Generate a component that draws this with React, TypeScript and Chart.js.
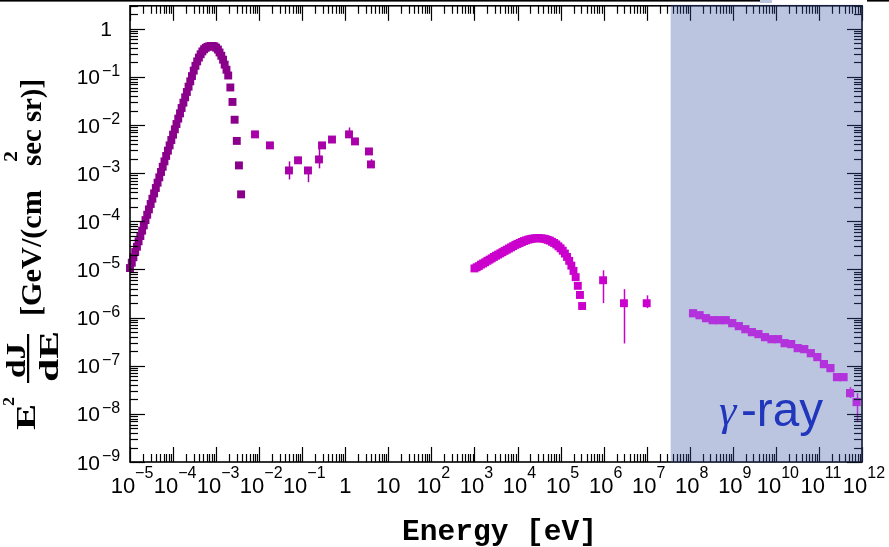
import React, { useEffect, useRef } from "react";
import { Chart, registerables } from "chart.js";
Chart.register(...registerables);

// ---- Data (energy in eV, E^2 dJ/dE in GeV/(cm^2 s sr)) ----
const cmbE = [
  1.00e-5, 1.10e-5, 1.20e-5, 1.32e-5, 1.45e-5, 1.58e-5, 1.74e-5, 1.91e-5, 2.09e-5, 2.29e-5,
  2.51e-5, 2.75e-5, 3.02e-5, 3.31e-5, 3.63e-5, 3.98e-5, 4.37e-5, 4.79e-5, 5.25e-5, 5.75e-5,
  6.31e-5, 6.92e-5, 7.59e-5, 8.32e-5, 9.12e-5, 1.00e-4, 1.10e-4, 1.20e-4, 1.32e-4, 1.45e-4,
  1.58e-4, 1.74e-4, 1.91e-4, 2.09e-4, 2.29e-4, 2.51e-4, 2.75e-4, 3.02e-4, 3.31e-4, 3.63e-4,
  3.98e-4, 4.37e-4, 4.79e-4, 5.25e-4, 5.75e-4, 6.31e-4, 6.92e-4, 7.59e-4, 8.32e-4, 9.12e-4,
  1.00e-3, 1.10e-3, 1.20e-3, 1.32e-3, 1.45e-3, 1.58e-3, 1.74e-3, 1.91e-3, 2.14e-3, 2.40e-3,
  2.69e-3, 3.02e-3, 3.39e-3, 3.80e-3,
];
const cmbFlux = [
  1.07e-5, 1.38e-5, 1.79e-5, 2.30e-5, 2.97e-5, 3.84e-5, 4.95e-5, 6.40e-5, 8.24e-5, 1.06e-4,
  1.37e-4, 1.77e-4, 2.29e-4, 2.95e-4, 3.81e-4, 4.92e-4, 6.35e-4, 8.20e-4, 1.06e-3, 1.36e-3,
  1.76e-3, 2.28e-3, 2.94e-3, 3.78e-3, 4.89e-3, 6.31e-3, 8.15e-3, 1.05e-2, 1.36e-2, 1.75e-2,
  2.26e-2, 2.92e-2, 3.77e-2, 4.86e-2, 6.27e-2, 8.09e-2, 0.104, 0.135, 0.170, 0.210,
  0.252, 0.295, 0.338, 0.375, 0.402, 0.420, 0.432, 0.440, 0.440, 0.430,
  0.405, 0.370, 0.322, 0.275, 0.228, 0.180, 0.141, 0.107, 0.0603, 0.0302,
  0.0129, 4.68e-3, 1.45e-3, 3.63e-4,
];

const cibE = [8.0e-3, 1.78e-2, 4.92e-2, 7.98e-2, 0.136, 0.245, 0.288, 0.491, 1.22, 1.68, 3.55, 3.95];
const cibFlux = [6.4e-3, 3.78e-3, 1.14e-3, 1.85e-3, 1.14e-3, 1.93e-3, 3.78e-3, 5.0e-3, 6.4e-3, 4.57e-3, 2.83e-3, 1.52e-3];
const cibErrLo = [null, null, 7.4e-4, 1.6e-3, 6.5e-4, 1.26e-3, null, null, 5.6e-3, 4.0e-3, null, 1.3e-3];
const cibErrHi = [null, null, 1.76e-3, 2.2e-3, 1.3e-3, 3.2e-3, null, null, 8.9e-3, 5.2e-3, null, 1.95e-3];

const cxbE = [
  1000, 1122, 1259, 1413, 1585, 1778, 1995, 2239, 2512, 2818,
  3162, 3548, 3981, 4467, 5012, 5623, 6310, 7079, 7943, 8913,
  1.0e4, 1.122e4, 1.259e4, 1.413e4, 1.585e4, 1.778e4, 1.995e4, 2.239e4, 2.512e4, 2.818e4,
  3.162e4, 3.548e4, 3.981e4, 4.467e4, 5.012e4, 5.623e4, 6.310e4, 7.079e4, 7.943e4, 8.913e4,
  1.0e5, 1.122e5, 1.259e5, 1.413e5, 1.585e5, 1.778e5, 1.995e5, 2.239e5, 2.512e5, 2.818e5,
  3.162e5,
];
const cxbFlux = [
  1.05e-5, 1.11e-5, 1.17e-5, 1.26e-5, 1.33e-5, 1.41e-5, 1.51e-5, 1.60e-5, 1.70e-5, 1.82e-5,
  1.93e-5, 2.04e-5, 2.16e-5, 2.29e-5, 2.43e-5, 2.57e-5, 2.72e-5, 2.88e-5, 3.05e-5, 3.24e-5,
  3.39e-5, 3.55e-5, 3.72e-5, 3.89e-5, 4.03e-5, 4.17e-5, 4.27e-5, 4.37e-5, 4.42e-5, 4.47e-5,
  4.47e-5, 4.42e-5, 4.37e-5, 4.27e-5, 4.12e-5, 3.98e-5, 3.76e-5, 3.55e-5, 3.31e-5, 3.02e-5,
  2.75e-5, 2.45e-5, 2.14e-5, 1.82e-5, 1.51e-5, 1.20e-5, 9.33e-6, 6.92e-6, 4.57e-6, 2.95e-6,
  1.74e-6,
];

const mevE = [9.7e5, 2.96e6, 1.0e7];
const mevFlux = [5.97e-6, 1.99e-6, 1.99e-6];
const mevErrLo = [2.0e-6, 2.9e-7, 1.57e-6];
const mevErrHi = [9.6e-6, 3.9e-6, 2.9e-6];

const gammaE = [
  1.19e8, 1.69e8, 2.39e8, 3.40e8, 4.82e8, 6.84e8, 9.70e8, 1.377e9, 1.954e9, 2.773e9,
  3.936e9, 5.585e9, 7.925e9, 1.125e10, 1.596e10, 2.265e10, 3.214e10, 4.56e10, 6.471e10, 9.183e10,
  1.303e11, 1.849e11, 2.624e11, 3.724e11, 5.284e11, 7.499e11,
];
const gammaFlux = [
  1.23e-6, 1.12e-6, 9.72e-7, 8.83e-7, 8.83e-7, 8.83e-7, 7.66e-7, 6.64e-7, 5.74e-7, 4.98e-7,
  4.53e-7, 3.92e-7, 3.56e-7, 3.56e-7, 2.94e-7, 2.81e-7, 2.32e-7, 2.21e-7, 1.82e-7, 1.51e-7,
  1.08e-7, 8.91e-8, 5.79e-8, 5.79e-8, 2.70e-8, 1.76e-8,
];
const gammaErrLo = [null, null, null, null, null, null, null, null, null, null, null, null, null,
  null, null, null, null, null, null, null, null, null, null, null, 2.13e-8, 6.76e-9];
const gammaErrHi = [null, null, null, null, null, null, null, null, null, null, null, null, null,
  null, null, null, null, null, null, null, null, null, null, null, 3.6e-8, 2.7e-8];

const xTickExps = [-5, -4, -3, -2, -1, 0, 1, 2, 3, 4, 5, 6, 7, 8, 9, 10, 11, 12];
const yTickExps = [-9, -8, -7, -6, -5, -4, -3, -2, -1, 0];
const X_MIN = 1e-5, X_MAX = 1e12, Y_MIN = 1e-9, Y_MAX = 3.0;
const gammaBandStart = 3.6e7;

const COL_CMB = "#8b008b";
const COL_CIB = "#aa00aa";
const COL_CXB = "#cc00cc";
const COL_GAMMA = "#f020f8";

const pts = (xs: number[], ys: number[]) => xs.map((x, i) => ({ x, y: ys[i] }));

const errSets = [
  { E: cibE, lo: cibErrLo, hi: cibErrHi, color: COL_CIB },
  { E: mevE, lo: mevErrLo, hi: mevErrHi, color: COL_CXB },
  { E: gammaE, lo: gammaErrLo, hi: gammaErrHi, color: COL_GAMMA },
];

function supStr(e: number) {
  return e < 0 ? "\u2212" + String(-e) : String(e);
}

function rotFit(ctx: CanvasRenderingContext2D, text: string, font: string, baseX: number, yStart: number, yEnd: number) {
  ctx.save();
  ctx.font = font;
  const w = ctx.measureText(text).width;
  ctx.translate(baseX, yStart);
  ctx.rotate(-Math.PI / 2);
  ctx.scale((yStart - yEnd) / w, 1);
  ctx.textAlign = "left";
  ctx.textBaseline = "alphabetic";
  ctx.fillText(text, 0, 0);
  ctx.restore();
}

function hFit(ctx: CanvasRenderingContext2D, text: string, font: string, x0: number, x1: number, baseY: number) {
  ctx.save();
  ctx.font = font;
  const w = ctx.measureText(text).width;
  ctx.translate(x0, baseY);
  ctx.scale((x1 - x0) / w, 1);
  ctx.textAlign = "left";
  ctx.textBaseline = "alphabetic";
  ctx.fillText(text, 0, 0);
  ctx.restore();
}

const decorPlugin = {
  id: "decor",
  afterDatasetsDraw(chart: any) {
    const ctx: CanvasRenderingContext2D = chart.ctx;
    const xs = chart.scales.x, ys = chart.scales.y;
    ctx.save();
    ctx.lineWidth = 1.5;
    for (const s of errSets) {
      ctx.strokeStyle = s.color;
      s.E.forEach((e: number, i: number) => {
        const lo = s.lo[i], hi = s.hi[i];
        if (lo == null || hi == null) return;
        const px = Math.round(xs.getPixelForValue(e)) + 0.5;
        ctx.beginPath();
        ctx.moveTo(px, ys.getPixelForValue(lo));
        ctx.lineTo(px, ys.getPixelForValue(hi));
        ctx.stroke();
      });
    }
    ctx.restore();
  },
  afterDraw(chart: any) {
    const ctx: CanvasRenderingContext2D = chart.ctx;
    const xs = chart.scales.x, ys = chart.scales.y;
    const { left, right, top, bottom } = chart.chartArea;
    ctx.save();

    // frame
    ctx.strokeStyle = "#000";
    ctx.lineWidth = 1.6;
    ctx.strokeRect(left, top, right - left, bottom - top);

    // ticks
    ctx.lineWidth = 1.2;
    const MAJ = 15, MIN = 8;
    const vline = (px: number, y0: number, y1: number) => {
      ctx.beginPath(); ctx.moveTo(px, y0); ctx.lineTo(px, y1); ctx.stroke();
    };
    const hline = (py: number, x0: number, x1: number) => {
      ctx.beginPath(); ctx.moveTo(x0, py); ctx.lineTo(x1, py); ctx.stroke();
    };
    xTickExps.forEach((e) => {
      const px = Math.round(xs.getPixelForValue(Math.pow(10, e))) + 0.5;
      vline(px, bottom, bottom - MAJ);
      vline(px, top, top + MAJ);
      if (e < xTickExps[xTickExps.length - 1]) {
        for (let m = 2; m <= 9; m++) {
          const p = Math.round(xs.getPixelForValue(m * Math.pow(10, e))) + 0.5;
          vline(p, bottom, bottom - MIN);
          vline(p, top, top + MIN);
        }
      }
    });
    yTickExps.forEach((e) => {
      const py = Math.round(ys.getPixelForValue(Math.pow(10, e))) + 0.5;
      hline(py, left, left + MAJ);
      hline(py, right, right - MAJ);
      for (let m = 2; m <= 9; m++) {
        const v = m * Math.pow(10, e);
        if (v > Y_MAX) break;
        const p = Math.round(ys.getPixelForValue(v)) + 0.5;
        hline(p, left, left + MIN);
        hline(p, right, right - MIN);
      }
    });

    // gamma-ray band overlay
    const bx = xs.getPixelForValue(gammaBandStart);
    ctx.fillStyle = "rgba(60,85,165,0.34)";
    ctx.fillRect(bx, top - 1, right + 1 - bx, bottom - top + 1.5);

    // gamma-ray label
    ctx.fillStyle = "#2036bc";
    ctx.textBaseline = "alphabetic";
    ctx.font = 'italic 44px "Liberation Serif"';
    ctx.textAlign = "left";
    ctx.fillText("\u03b3", 719, 425);
    hFit(ctx, "-ray", '48px "Liberation Sans"', 741, 823, 426);

    // x tick labels
    ctx.fillStyle = "#000";
    xTickExps.forEach((e) => {
      const px = xs.getPixelForValue(Math.pow(10, e));
      const baseFont = '22px "Liberation Sans"';
      const supFont = '16px "Liberation Sans"';
      if (e === 0 || e === 1) {
        ctx.font = baseFont; ctx.textAlign = "center";
        ctx.fillText(e === 0 ? "1" : "10", px, 493);
      } else {
        ctx.font = baseFont;
        const wb = ctx.measureText("10").width;
        ctx.font = supFont;
        const s = supStr(e);
        const wsup = ctx.measureText(s).width;
        const x0 = px - (wb + wsup) / 2 + 2;
        ctx.textAlign = "left";
        ctx.font = baseFont; ctx.fillText("10", x0, 493);
        ctx.font = supFont; ctx.fillText(s, x0 + wb, 478);
      }
    });

    // y tick labels
    yTickExps.forEach((e) => {
      const py = ys.getPixelForValue(Math.pow(10, e));
      const baseFont = '21px "Liberation Sans"';
      const supFont = '16px "Liberation Sans"';
      if (e === 0) {
        ctx.font = baseFont; ctx.textAlign = "right";
        ctx.fillText("1", 112, py + 7.5);
      } else {
        ctx.font = baseFont; ctx.textAlign = "right";
        ctx.fillText("10", 100, py + 7.5);
        ctx.font = supFont; ctx.textAlign = "left";
        ctx.fillText(supStr(e), 102, py - 1);
      }
    });

    // x title
    hFit(ctx, "Energy [eV]", 'bold 29px "Liberation Mono"', 402, 597, 540);

    // y title
    const serifB = (s: number) => `bold ${s}px "Liberation Serif"`;
    rotFit(ctx, "E", serifB(27), 35, 430, 404);
    rotFit(ctx, "2", serifB(16), 14, 406, 397);
    rotFit(ctx, "dJ", serifB(27), 25, 378, 343);
    rotFit(ctx, "dE", serifB(27), 58, 382, 331);
    ctx.fillRect(27, 334, 2.2, 49);
    rotFit(ctx, "[GeV/(cm", serifB(30), 41, 316, 190);
    rotFit(ctx, "2", serifB(18), 17, 162, 151);
    rotFit(ctx, "sec sr)]", serifB(30), 41, 166, 79);

    // top border strip of the slide
    ctx.fillStyle = "#000";
    ctx.fillRect(0, 0, 760, 1.6);
    ctx.fillRect(867, 0, 22, 1.6);
    ctx.fillStyle = "#bcc5e0";
    ctx.fillRect(760, 0, 12, 3);

    ctx.restore();
  },
};

export default function App() {
  const ref = useRef<HTMLCanvasElement | null>(null);
  useEffect(() => {
    if (!ref.current) return;
    const mk = (data: any[], color: string, r = 5.6) => ({
      data,
      showLine: false,
      pointStyle: "rect",
      pointRadius: r,
      pointHoverRadius: r,
      pointBorderWidth: 0,
      borderWidth: 0,
      backgroundColor: color,
      borderColor: color,
      clip: false,
    });
    const chart = new Chart(ref.current, {
      type: "scatter",
      data: {
        datasets: [
          mk(pts(cmbE, cmbFlux), COL_CMB),
          mk(pts(cibE, cibFlux), COL_CIB),
          mk(pts(cxbE, cxbFlux), COL_CXB),
          mk(pts(mevE, mevFlux), COL_CXB),
          mk(pts(gammaE, gammaFlux), COL_GAMMA, 5.8),
        ] as any,
      },
      options: {
        animation: false,
        responsive: false,
        events: [],
        layout: { padding: { left: 130, right: 27, top: 5, bottom: 85 } },
        plugins: { legend: { display: false }, tooltip: { enabled: false }, title: { display: false } },
        scales: {
          x: { type: "logarithmic", min: X_MIN, max: X_MAX, display: false },
          y: { type: "logarithmic", min: Y_MIN, max: Y_MAX, display: false },
        },
      } as any,
      plugins: [decorPlugin as any],
    });
    return () => chart.destroy();
  }, []);
  return (
    <div style={{ position: "absolute", left: 0, top: 0, width: 889, height: 547, background: "#fff" }}>
      <canvas ref={ref} width={889} height={547} style={{ display: "block" }} />
    </div>
  );
}
